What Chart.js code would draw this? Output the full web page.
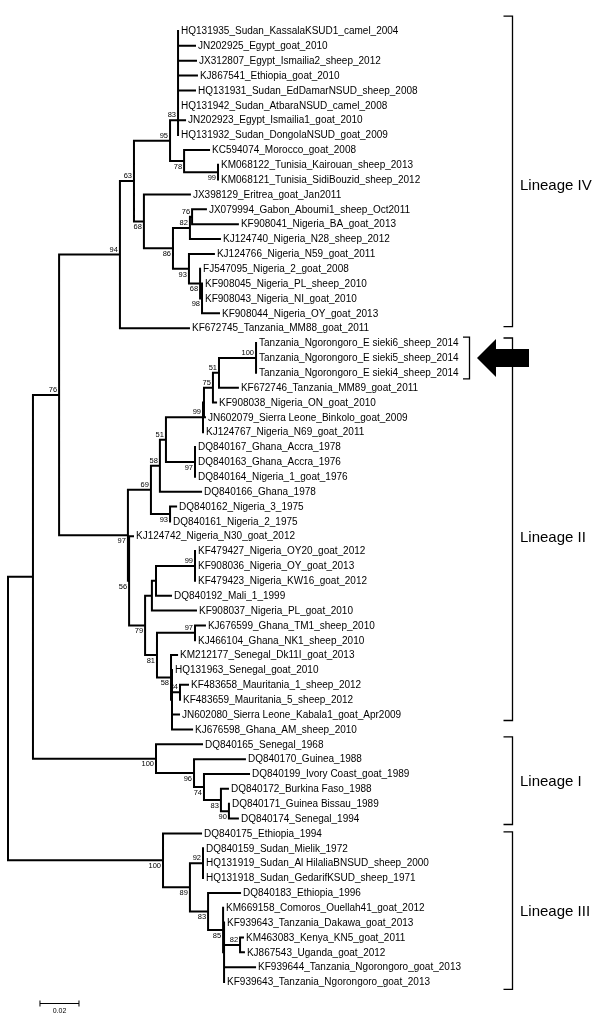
<!DOCTYPE html>
<html>
<head>
<meta charset="utf-8">
<script src="https://cdn.jsdelivr.net/npm/chart.js@4/dist/chart.umd.min.js"></script>
<style>
  html, body { margin: 0; padding: 0; background: #fff; }
  #wrap { width: 600px; height: 1031px; }
</style>
</head>
<body>
<div id="wrap"><canvas id="tree" width="600" height="1031"></canvas></div>
<script>
// Taxa, top to bottom
const leafNames = [
  'HQ131935_Sudan_KassalaKSUD1_camel_2004', 'JN202925_Egypt_goat_2010', 'JX312807_Egypt_Ismailia2_sheep_2012',
  'KJ867541_Ethiopia_goat_2010', 'HQ131931_Sudan_EdDamarNSUD_sheep_2008', 'HQ131942_Sudan_AtbaraNSUD_camel_2008',
  'JN202923_Egypt_Ismailia1_goat_2010', 'HQ131932_Sudan_DongolaNSUD_goat_2009', 'KC594074_Morocco_goat_2008',
  'KM068122_Tunisia_Kairouan_sheep_2013', 'KM068121_Tunisia_SidiBouzid_sheep_2012', 'JX398129_Eritrea_goat_Jan2011',
  'JX079994_Gabon_Aboumi1_sheep_Oct2011', 'KF908041_Nigeria_BA_goat_2013', 'KJ124740_Nigeria_N28_sheep_2012',
  'KJ124766_Nigeria_N59_goat_2011', 'FJ547095_Nigeria_2_goat_2008', 'KF908045_Nigeria_PL_sheep_2010',
  'KF908043_Nigeria_NI_goat_2010', 'KF908044_Nigeria_OY_goat_2013', 'KF672745_Tanzania_MM88_goat_2011',
  'Tanzania_Ngorongoro_E sieki6_sheep_2014', 'Tanzania_Ngorongoro_E sieki5_sheep_2014', 'Tanzania_Ngorongoro_E sieki4_sheep_2014',
  'KF672746_Tanzania_MM89_goat_2011', 'KF908038_Nigeria_ON_goat_2010', 'JN602079_Sierra Leone_Binkolo_goat_2009',
  'KJ124767_Nigeria_N69_goat_2011', 'DQ840167_Ghana_Accra_1978', 'DQ840163_Ghana_Accra_1976',
  'DQ840164_Nigeria_1_goat_1976', 'DQ840166_Ghana_1978', 'DQ840162_Nigeria_3_1975',
  'DQ840161_Nigeria_2_1975', 'KJ124742_Nigeria_N30_goat_2012', 'KF479427_Nigeria_OY20_goat_2012',
  'KF908036_Nigeria_OY_goat_2013', 'KF479423_Nigeria_KW16_goat_2012', 'DQ840192_Mali_1_1999',
  'KF908037_Nigeria_PL_goat_2010', 'KJ676599_Ghana_TM1_sheep_2010', 'KJ466104_Ghana_NK1_sheep_2010',
  'KM212177_Senegal_Dk11I_goat_2013', 'HQ131963_Senegal_goat_2010', 'KF483658_Mauritania_1_sheep_2012',
  'KF483659_Mauritania_5_sheep_2012', 'JN602080_Sierra Leone_Kabala1_goat_Apr2009', 'KJ676598_Ghana_AM_sheep_2010',
  'DQ840165_Senegal_1968', 'DQ840170_Guinea_1988', 'DQ840199_Ivory Coast_goat_1989',
  'DQ840172_Burkina Faso_1988', 'DQ840171_Guinea Bissau_1989', 'DQ840174_Senegal_1994',
  'DQ840175_Ethiopia_1994', 'DQ840159_Sudan_Mielik_1972', 'HQ131919_Sudan_Al HilaliaBNSUD_sheep_2000',
  'HQ131918_Sudan_GedarifKSUD_sheep_1971', 'DQ840183_Ethiopia_1996', 'KM669158_Comoros_Ouellah41_goat_2012',
  'KF939643_Tanzania_Dakawa_goat_2013', 'KM463083_Kenya_KN5_goat_2011', 'KJ867543_Uganda_goat_2012',
  'KF939644_Tanzania_Ngorongoro_goat_2013', 'KF939643_Tanzania_Ngorongoro_goat_2013'
];

// distance of each taxon from the root (substitutions/site)
const leafDepth = [
  0.0872, 0.0959, 0.0964, 0.0969, 0.0959, 0.0872, 0.0908, 0.0872, 0.1031, 0.1077,
  0.1077, 0.0933, 0.1015, 0.1179, 0.1087, 0.1056, 0.0985, 0.0995, 0.0995, 0.1082,
  0.0928, 0.1272, 0.1272, 0.1272, 0.1179, 0.1067, 0.1010, 0.1000, 0.0959, 0.0959,
  0.0959, 0.0990, 0.0862, 0.0831, 0.0641, 0.0959, 0.0959, 0.0959, 0.0836, 0.0964,
  0.1010, 0.0959, 0.0867, 0.0841, 0.0923, 0.0882, 0.0877, 0.0944, 0.0995, 0.1215,
  0.1236, 0.1128, 0.1133, 0.1179, 0.0990, 0.1000, 0.1000, 0.1000, 0.1190, 0.1103,
  0.1108, 0.1205, 0.1210, 0.1267, 0.1108
];

// topology: children are taxon indexes or node ids
const nodeKids = {
  root: ['nA', 'n100c'],
  nA: ['nB', 'n100b'],
  nB: ['n94', 'n97'],
  // lineage IV
  n94: ['n63', 20],
  n63: ['n95', 'n68'],
  n95: ['n83', 'n78'],
  n83: ['c6', 7], c6: ['c5', 6], c5: ['c4', 5], c4: ['c3', 4], c3: ['c2', 3], c2: ['c1', 2], c1: [0, 1],
  n78: [8, 'n99a'],
  n99a: [9, 10],
  n68: [11, 'n86'],
  n86: ['n82', 'n93'],
  n82: ['n76', 14],
  n76: [12, 13],
  n93: [15, 'n68b'],
  n68b: [16, 'n98'],
  n98: [17, 18, 19],
  // lineage II
  n97: ['n69', 'n56'],
  n69: ['n58', 'n93b'],
  n58: ['n51', 31],
  n51: ['n99b', 'n97b'],
  n99b: ['nX', 27],
  nX: ['n75', 26],
  n75: ['n51c', 25],
  n51c: ['n100a', 24],
  n100a: [21, 22, 23],
  n97b: [28, 29, 30],
  n93b: [32, 33],
  n56: [34, 'n79'],
  n79: ['nb', 'n81'],
  nb: ['nc', 39],
  nc: ['n99c', 38],
  n99c: [35, 36, 37],
  n81: ['n97c', 'n58b'],
  n97c: [40, 41],
  n58b: [42, 'nZ'],
  nZ: [43, 'n84', 46, 47],
  n84: [44, 45],
  // lineage I
  n100b: [48, 'n96'],
  n96: [49, 'n74'],
  n74: [50, 'n83b'],
  n83b: [51, 'n90'],
  n90: [52, 53],
  // lineage III
  n100c: [54, 'n89'],
  n89: ['n92', 'n83c'],
  n92: [55, 56, 57],
  n83c: [58, 'n85'],
  n85: [59, 'nV'],
  nV: [60, 'n82b', 63, 64],
  n82b: [61, 62]
};

const nodeDepth = {
  root: 0, nA: 0.0128, nB: 0.0262,
  n94: 0.0574, n63: 0.0646, n95: 0.0831, n83: 0.0872, c6: 0.0872, c5: 0.0872, c4: 0.0872, c3: 0.0872, c2: 0.0872, c1: 0.0872,
  n78: 0.0903, n99a: 0.1077, n68: 0.0697, n86: 0.0846, n82: 0.0933, n76: 0.0944, n93: 0.0928, n68b: 0.0985, n98: 0.0995,
  n97: 0.0615, n69: 0.0733, n58: 0.0779, n51: 0.0810, n99b: 0.1000, nX: 0.1005, n75: 0.1051, n51c: 0.1082, n100a: 0.1272,
  n97b: 0.0959, n93b: 0.0831, n56: 0.0621, n79: 0.0703, nb: 0.0738, nc: 0.0759, n99c: 0.0959, n81: 0.0764, n97c: 0.0959,
  n58b: 0.0836, nZ: 0.0841, n84: 0.0882,
  n100b: 0.0759, n96: 0.0954, n74: 0.1005, n83b: 0.1092, n90: 0.1133,
  n100c: 0.0795, n89: 0.0933, n92: 0.1000, n83c: 0.1026, n85: 0.1103, nV: 0.1108, n82b: 0.1190
};

// bootstrap support (%)
const nodeSupport = {
  n83: 83, n95: 95, n78: 78, n99a: 99, n63: 63, n68: 68, n94: 94, n76: 76, n82: 82, n86: 86, n93: 93, n68b: 68, n98: 98, nB: 76,
  n100a: 100, n51c: 51, n75: 75, n99b: 99, n51: 51, n97b: 97, n58: 58, n69: 69, n93b: 93, n97: 97, n56: 56, n99c: 99,
  n79: 79, n97c: 97, n81: 81, n58b: 58, n84: 84,
  n100b: 100, n96: 96, n74: 74, n83b: 83, n90: 90,
  n100c: 100, n92: 92, n89: 89, n83c: 83, n85: 85, n82b: 82
};
// support values printed under the branch instead of above it
const supportBelow = ['n99a', 'n78', 'n98', 'n68b', 'n93', 'n86', 'n68', 'n97b', 'n93b', 'n81', 'n79', 'n56', 'n97', 'n58b',
  'n90', 'n83b', 'n74', 'n96', 'n100b', 'n85', 'n83c', 'n89', 'n100c'];

// lineage brackets: [name, first row, last row, label row]
const lineages = [
  ['Lineage IV', -1.0, 19.9, 10.4],
  ['Lineage II', 20.66, 46.4, 34.1],
  ['Lineage I', 47.5, 53.4, 50.5],
  ['Lineage III', 53.9, 64.5, 59.3]
];
const highlightRows = [21, 23];   // new Tanzanian sequences (arrow)
const scaleBar = { start: 0.0164, length: 0.02, row: 65.4, label: '0.02' };

// --- layout: y of each node is the middle of its outer children ---
const nodeY = {};
function layout(id) {
  const ys = nodeKids[id].map(k => typeof k === 'number' ? k : layout(k));
  nodeY[id] = (ys[0] + ys[ys.length - 1]) / 2;
  return nodeY[id];
}
layout('root');
const kidY = k => typeof k === 'number' ? k : nodeY[k];
const kidDepth = k => typeof k === 'number' ? leafDepth[k] : nodeDepth[k];

// branches as one line dataset, segments separated by gaps
const branchPoints = [];
Object.keys(nodeKids).forEach(id => {
  const kids = nodeKids[id];
  const d = nodeDepth[id];
  branchPoints.push({ x: d, y: kidY(kids[0]) }, { x: d, y: kidY(kids[kids.length - 1]) }, { x: null, y: null });
  kids.forEach(k => {
    if (kidDepth(k) - d > 0.00001) {
      branchPoints.push({ x: d, y: kidY(k) }, { x: kidDepth(k), y: kidY(k) }, { x: null, y: null });
    }
  });
});

const FONT = '"Liberation Sans", Arial, sans-serif';

const treeLabels = {
  id: 'treeLabels',
  afterDatasetsDraw(chart) {
    const { ctx, scales: { x, y } } = chart;
    ctx.save();
    ctx.fillStyle = '#000';
    ctx.strokeStyle = '#000';

    // taxon names
    ctx.font = '10px ' + FONT;
    ctx.textAlign = 'left';
    ctx.textBaseline = 'middle';
    leafNames.forEach((name, i) => {
      ctx.fillText(name, x.getPixelForValue(leafDepth[i]) + 3, y.getPixelForValue(i) + 0.5);
    });

    // bootstrap values
    ctx.font = '7.5px ' + FONT;
    ctx.textAlign = 'right';
    Object.keys(nodeSupport).forEach(id => {
      const px = x.getPixelForValue(nodeDepth[id]) - 2;
      const py = y.getPixelForValue(nodeY[id]);
      if (supportBelow.includes(id)) {
        ctx.textBaseline = 'top';
        ctx.fillText(String(nodeSupport[id]), px, py + 2);
      } else {
        ctx.textBaseline = 'alphabetic';
        ctx.fillText(String(nodeSupport[id]), px, py - 3);
      }
    });

    // lineage brackets
    ctx.lineWidth = 1.3;
    ctx.font = '15px ' + FONT;
    ctx.textAlign = 'left';
    ctx.textBaseline = 'middle';
    const bx = 512.5;
    lineages.forEach(([name, r0, r1, rl]) => {
      const y0 = y.getPixelForValue(r0), y1 = y.getPixelForValue(r1);
      ctx.beginPath();
      ctx.moveTo(bx - 9, y0); ctx.lineTo(bx, y0); ctx.lineTo(bx, y1); ctx.lineTo(bx - 9, y1);
      ctx.stroke();
      ctx.fillText(name, 520, y.getPixelForValue(rl));
    });

    // small bracket + arrow for the new sequences
    const h0 = y.getPixelForValue(highlightRows[0]) - 6;
    const h1 = y.getPixelForValue(highlightRows[1]) + 6;
    const hm = (h0 + h1) / 2;
    ctx.beginPath();
    ctx.moveTo(463, h0); ctx.lineTo(469.5, h0); ctx.lineTo(469.5, h1); ctx.lineTo(463, h1);
    ctx.stroke();
    ctx.beginPath();
    ctx.moveTo(477, hm);
    ctx.lineTo(496, hm - 19);
    ctx.lineTo(496, hm - 9);
    ctx.lineTo(529, hm - 9);
    ctx.lineTo(529, hm + 9);
    ctx.lineTo(496, hm + 9);
    ctx.lineTo(496, hm + 19);
    ctx.closePath();
    ctx.fill();

    // scale bar
    const sx0 = x.getPixelForValue(scaleBar.start);
    const sx1 = x.getPixelForValue(scaleBar.start + scaleBar.length);
    const sy = Math.round(y.getPixelForValue(scaleBar.row)) + 0.5;
    ctx.lineWidth = 1;
    ctx.beginPath();
    ctx.moveTo(sx0, sy); ctx.lineTo(sx1, sy);
    ctx.moveTo(sx0, sy - 3); ctx.lineTo(sx0, sy + 3);
    ctx.moveTo(sx1, sy - 3); ctx.lineTo(sx1, sy + 3);
    ctx.stroke();
    ctx.font = '7px ' + FONT;
    ctx.textAlign = 'center';
    ctx.textBaseline = 'top';
    ctx.fillText(scaleBar.label, (sx0 + sx1) / 2, sy + 4);

    ctx.restore();
  }
};

new Chart(document.getElementById('tree'), {
  type: 'scatter',
  data: {
    datasets: [{
      data: branchPoints,
      showLine: true,
      spanGaps: false,
      borderColor: '#000',
      borderWidth: 2,
      borderCapStyle: 'square',
      pointRadius: 0,
      pointHoverRadius: 0
    }]
  },
  options: {
    responsive: false,
    animation: false,
    layout: { padding: 0 },
    events: [],
    plugins: { legend: { display: false }, tooltip: { enabled: false } },
    scales: {
      // 1950 px per substitution/site, root at x = 8
      x: { type: 'linear', display: false, min: -8 / 1950, max: 592 / 1950 },
      // one row every 14.86 px, first taxon at y = 31
      y: { type: 'linear', display: false, reverse: true, min: -31 / 14.86, max: 1000 / 14.86 }
    }
  },
  plugins: [treeLabels]
});
</script>
</body>
</html>
